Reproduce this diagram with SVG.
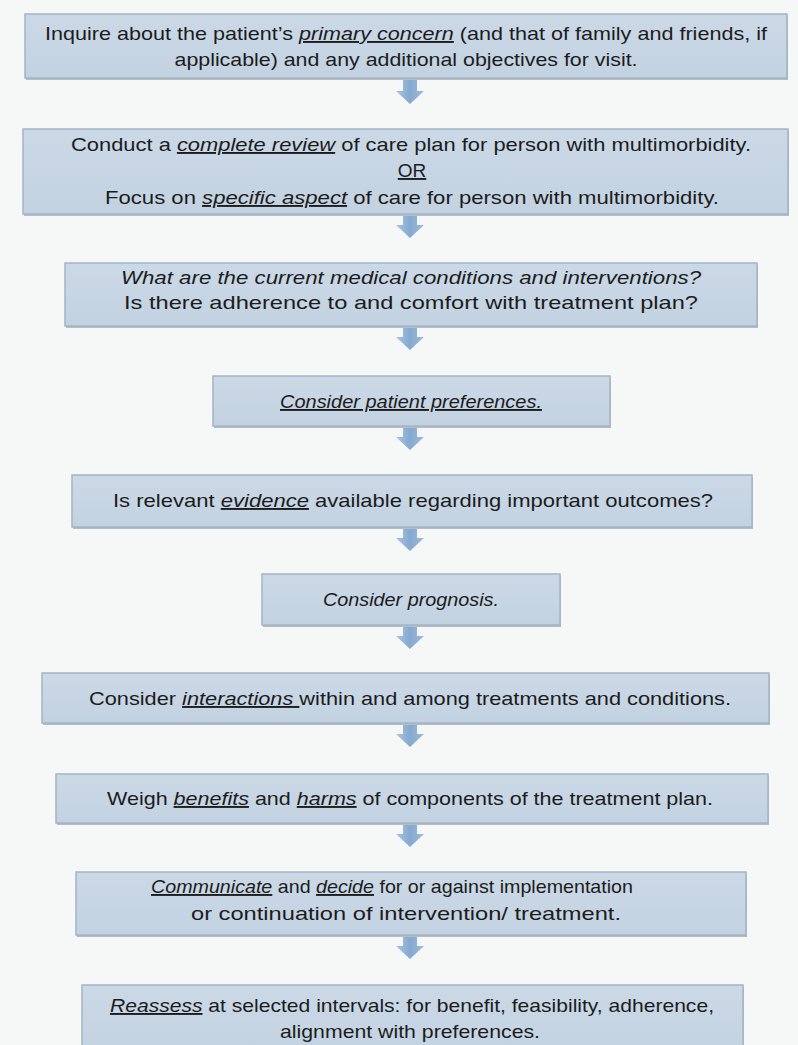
<svg xmlns="http://www.w3.org/2000/svg" width="798" height="1045" viewBox="0 0 798 1045">
<defs>
<linearGradient id="boxg" x1="0" y1="0" x2="0" y2="1">
<stop offset="0" stop-color="#cbd9e7"/>
<stop offset="1" stop-color="#c3d2e1"/>
</linearGradient>
<linearGradient id="arrg" x1="0" y1="0" x2="1" y2="0">
<stop offset="0" stop-color="#a9c4e0"/>
<stop offset="0.5" stop-color="#86a9d0"/>
<stop offset="1" stop-color="#9dbbdb"/>
</linearGradient>
<path id="arrow" d="M-7,0 H7 V11 H14 L0,24 L-14,11 H-7 Z"/>
</defs>
<style>
.bg{fill:#f6f7f7}
.box{fill:url(#boxg);stroke:#a3b4c5;stroke-width:1.5}
.sh{fill:#b4bcc4}
.t{font-family:"Liberation Sans",Arial,sans-serif;font-size:19px;fill:#1c1c1c;text-anchor:middle}
.i{font-style:italic}
.u{text-decoration:underline}
.arr{fill:url(#arrg)}
</style>
<rect class="bg" x="0" y="0" width="798" height="1045"/>

<g id="connectors">
<use href="#arrow" class="arr" transform="translate(410,80)"/>
<use href="#arrow" class="arr" transform="translate(410,214)"/>
<use href="#arrow" class="arr" transform="translate(410,326)"/>
<use href="#arrow" class="arr" transform="translate(410,426)"/>
<use href="#arrow" class="arr" transform="translate(410,527)"/>
<use href="#arrow" class="arr" transform="translate(410,625)"/>
<use href="#arrow" class="arr" transform="translate(410,723)"/>
<use href="#arrow" class="arr" transform="translate(410,823)"/>
<use href="#arrow" class="arr" transform="translate(410,935)"/>
</g>

<g id="node1">
<rect class="sh" x="26" y="16" width="762" height="64"/>
<rect class="box" x="25" y="14" width="762" height="64"/>
<text class="t" x="406" y="40" textLength="722" lengthAdjust="spacingAndGlyphs">Inquire about the patient’s <tspan class="i u">primary concern</tspan> (and that of family and friends, if</text>
<text class="t" x="406" y="66" textLength="463" lengthAdjust="spacingAndGlyphs">applicable) and any additional objectives for visit.</text>
</g>

<g id="node2">
<rect class="sh" x="24" y="131" width="765" height="85"/>
<rect class="box" x="23" y="129" width="765" height="85"/>
<text class="t" x="411" y="151" textLength="680" lengthAdjust="spacingAndGlyphs">Conduct a <tspan class="i u">complete review</tspan> of care plan for person with multimorbidity.</text>
<text class="t u" x="412" y="177">OR</text>
<text class="t" x="412" y="204" textLength="614" lengthAdjust="spacingAndGlyphs">Focus on <tspan class="i u">specific aspect</tspan> of care for person with multimorbidity.</text>
</g>

<g id="node3">
<rect class="sh" x="66" y="265" width="692" height="63"/>
<rect class="box" x="65" y="263" width="692" height="63"/>
<text class="t i" x="411" y="284" textLength="580" lengthAdjust="spacingAndGlyphs">What are the current medical conditions and interventions?</text>
<text class="t" x="411" y="309" textLength="574" lengthAdjust="spacingAndGlyphs">Is there adherence to and comfort with treatment plan?</text>
</g>

<g id="node4">
<rect class="sh" x="214" y="378" width="397" height="50"/>
<rect class="box" x="213" y="376" width="397" height="50"/>
<text class="t i u" x="411" y="408" textLength="262" lengthAdjust="spacingAndGlyphs">Consider patient preferences.</text>
</g>

<g id="node5">
<rect class="sh" x="73" y="477" width="680" height="52"/>
<rect class="box" x="72" y="475" width="680" height="52"/>
<text class="t" x="413" y="507" textLength="600" lengthAdjust="spacingAndGlyphs">Is relevant <tspan class="i u">evidence</tspan> available regarding important outcomes?</text>
</g>

<g id="node6">
<rect class="sh" x="263" y="576" width="298" height="51"/>
<rect class="box" x="262" y="574" width="298" height="51"/>
<text class="t i" x="411" y="606" textLength="176" lengthAdjust="spacingAndGlyphs">Consider prognosis.</text>
</g>

<g id="node7">
<rect class="sh" x="43" y="675" width="727" height="50"/>
<rect class="box" x="42" y="673" width="727" height="50"/>
<text class="t" x="410" y="705" textLength="642" lengthAdjust="spacingAndGlyphs">Consider <tspan class="i u">interactions </tspan>within and among treatments and conditions.</text>
</g>

<g id="node8">
<rect class="sh" x="57" y="776" width="712" height="49"/>
<rect class="box" x="56" y="774" width="712" height="49"/>
<text class="t" x="410" y="805" textLength="606" lengthAdjust="spacingAndGlyphs">Weigh <tspan class="i u">benefits</tspan> and <tspan class="i u">harms</tspan> of components of the treatment plan.</text>
</g>

<g id="node9">
<rect class="sh" x="77" y="874" width="670" height="63"/>
<rect class="box" x="76" y="872" width="670" height="63"/>
<text class="t" x="392" y="893" textLength="482" lengthAdjust="spacingAndGlyphs"><tspan class="i u">Communicate</tspan> and <tspan class="i u">decide</tspan> for or against implementation</text>
<text class="t" x="406" y="920" textLength="430" lengthAdjust="spacingAndGlyphs">or continuation of intervention/ treatment.</text>
</g>

<g id="node10">
<rect class="sh" x="83" y="987" width="661" height="70"/>
<rect class="box" x="82" y="985" width="661" height="70"/>
<text class="t" x="412" y="1012" textLength="604" lengthAdjust="spacingAndGlyphs"><tspan class="i u">Reassess</tspan> at selected intervals: for benefit, feasibility, adherence,</text>
<text class="t" x="410" y="1038" textLength="260" lengthAdjust="spacingAndGlyphs">alignment with preferences.</text>
</g>
</svg>
